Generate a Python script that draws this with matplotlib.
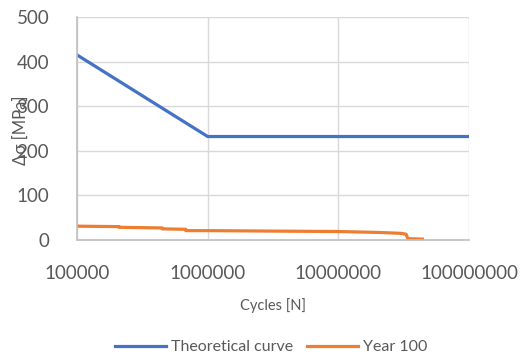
import matplotlib.pyplot as plt
import numpy as np

plt.rcParams['font.family'] = ['Lato', 'DejaVu Sans']

theory_n = [1e5, 1e6, 1e8]
theory_s = [415, 232, 232]

year100_n = [1e5, 2.1e5, 2.1e5, 4.5e5, 4.5e5, 6.8e5, 6.8e5, 1.0e6, 3.0e6, 1.0e7, 2.0e7, 3.0e7, 3.3e7, 3.4e7, 4.4e7]
year100_s = [31, 30, 28.5, 27, 25, 24, 21, 21, 20, 19, 17, 15, 13, 3, 2]

fig = plt.figure(figsize=(5.23, 3.58), dpi=100)
ax = fig.add_axes([77 / 523, 1 - 240 / 358, 392 / 523, 223 / 358])

ax.plot(theory_n, theory_s, color='#4472C4', lw=2.3, label='Theoretical curve')
ax.plot(year100_n, year100_s, color='#ED7D31', lw=2.3, label='Year 100')

ax.set_xscale('log')
ax.set_xlim(1e5, 1e8)
ax.set_ylim(0, 500)
ax.set_yticks([0, 100, 200, 300, 400, 500])
ax.set_xticks([1e5, 1e6, 1e7, 1e8])
ax.set_xticklabels(['100000', '1000000', '10000000', '100000000'])
ax.minorticks_off()
ax.grid(True, color='#d9d9d9', lw=1)
ax.set_axisbelow(True)
ax.tick_params(length=0, labelsize=13.5, colors='#595959')
ax.tick_params(axis='x', pad=18)
ax.tick_params(axis='y', pad=20)
for s in ['top', 'right']:
    ax.spines[s].set_visible(False)
for s in ['left', 'bottom']:
    ax.spines[s].set_color('#bfbfbf')
    ax.spines[s].set_linewidth(1.2)

ax.set_xlabel('Cycles [N]', fontsize=10.5, color='#595959')
ax.xaxis.set_label_coords(0.5, -0.26)
ax.set_ylabel('Δσ [MPa]', fontsize=12, color='#595959')
ax.yaxis.set_label_coords(-0.122, 0.49)

fig.legend(loc='center', bbox_to_anchor=(271 / 523, 1 - 347 / 358), ncol=2, frameon=False,
           fontsize=11.5, labelcolor='#595959', handlelength=3.2, columnspacing=0.9, handletextpad=0.3)

fig.savefig('out.png')
